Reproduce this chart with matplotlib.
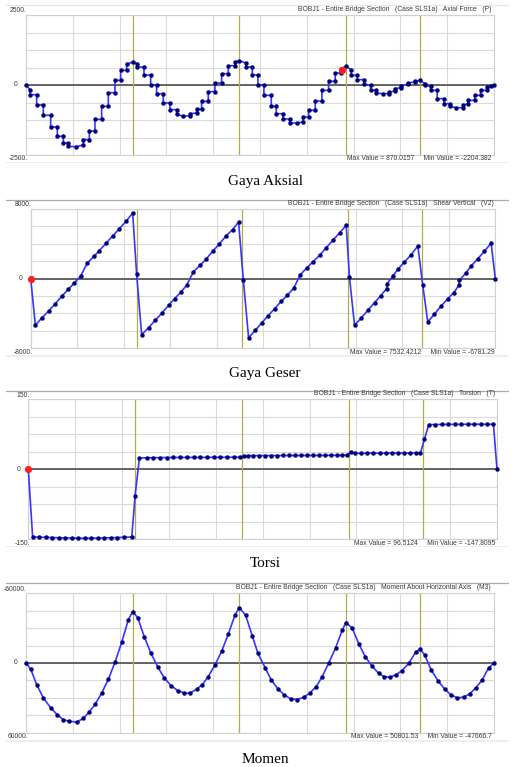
import matplotlib
matplotlib.use("Agg")
import matplotlib.pyplot as plt
from matplotlib.patches import Rectangle
import numpy as np

W, H = 518, 767
fig = plt.figure(figsize=(W / 100, H / 100), dpi=100)
fig.patch.set_facecolor("white")

# ---- bridge geometry (m) ----
BRIDGE_LENGTH = 158.0
SUPPORTS = [36.0, 72.0, 108.0, 133.0]

# ---- axial force P (kN), step diagram along the girder ----
axial_x = [0.0, 1.35, 1.35, 3.6, 3.6, 5.85, 5.85, 8.33, 8.33, 10.58, 10.58, 12.6, 12.6,
           14.29, 14.29, 16.88, 19.35, 19.35, 21.38, 21.38, 23.29, 23.29, 25.54, 25.54,
           27.79, 27.79, 30.04, 30.04, 31.95, 31.95, 33.98, 33.98, 36.0,
           37.58, 37.58, 39.83, 39.83, 42.08, 42.08, 44.1, 44.1, 46.35, 46.35, 48.6, 48.6,
           50.85, 50.85, 52.88, 55.35, 55.35, 57.6, 57.6, 59.29, 59.29, 61.54, 61.54,
           63.79, 63.79, 66.04, 66.04, 68.29, 68.29, 70.54, 70.54, 72.0,
           74.25, 74.25, 76.39, 76.39, 78.3, 78.3, 80.33, 80.33, 82.8, 82.8, 84.49, 84.49,
           86.74, 86.74, 88.99, 88.99, 91.58, 93.49, 93.49, 95.4, 95.4, 97.65, 97.65,
           99.9, 99.9, 102.15, 102.15, 104.4, 104.4, 106.2, 106.2, 108.0,
           109.8, 109.8, 111.83, 111.83, 114.08, 114.08, 116.33, 116.33, 118.24, 118.24,
           120.49, 122.51, 122.51, 124.43, 124.43, 126.68, 126.68, 128.93, 128.93,
           131.18, 131.18, 133.0,
           134.55, 134.55, 136.58, 136.58, 138.83, 138.83, 141.08, 141.08, 142.99, 142.99,
           145.24, 147.49, 147.49, 149.18, 149.18, 151.43, 151.43, 153.45, 153.45,
           155.7, 155.7, 157.05, 158.0]
axial_v = [0, -167, -345, -345, -714, -714, -1083, -1083, -1500, -1500, -1833, -1833, -2071,
           -2071, -2190, -2204, -2143, -1952, -1952, -1643, -1643, -1226, -1226, -762,
           -762, -274, -274, 167, 167, 524, 524, 738, 821,
           762, 643, 643, 357, 357, 0, 0, -310, -310, -643, -643, -881,
           -881, -1048, -1107, -1107, -1024, -1000, -857, -857, -583, -583, -238,
           -238, 71, 71, 405, 405, 690, 690, 821, 870,
           786, 643, 643, 357, 357, 0, 0, -369, -369, -762, -762, -1024,
           -1024, -1214, -1214, -1357, -1357, -1321, -1143, -1143, -905, -905, -571,
           -571, -190, -190, 131, 131, 429, 429, 583, 667,
           548, 345, 345, 190, 190, 24, -12, -190, -190, -286,
           -310, -310, -262, -214, -131, -95, -24, 24, 71,
           107, 131, 167,
           48, -12, -48, -190, -190, -488, -488, -667, -667, -762,
           -810, -810, -726, -667, -548, -548, -369, -369, -190,
           -190, -71, -48, 0]
axial_cursor = (106.7, 548)

# ---- vertical shear V2 (kN) ----
shear_x = [0.0, 1.59, 3.74, 6.12, 8.38, 10.65, 12.8, 14.73, 16.99, 19.26, 21.53, 23.34,
           25.61, 27.87, 30.14, 32.41, 34.68, 36.03,
           37.73, 40.1, 42.37, 44.64, 46.91, 48.95, 50.99, 53.03, 55.29, 57.56, 59.6,
           61.86, 64.13, 66.4, 68.66, 70.7, 72.3,
           74.1, 76.36, 78.63, 80.67, 82.94, 85.2, 87.24, 89.51, 91.55, 93.81, 95.97,
           98.23, 100.5, 102.76, 105.03, 107.3, 108.4,
           110.13, 112.39, 114.66, 116.93, 118.97, 121.0, 121.23, 123.16, 124.86,
           127.12, 129.39, 131.66, 133.3,
           135.05, 137.32, 139.59, 141.85, 143.89, 145.59, 145.82, 148.08, 149.78,
           152.05, 154.31, 156.58, 158.0]
shear_v = [0, -5359, -4517, -3713, -2871, -1991, -1225, -536, 306, 1799, 2565, 3216,
           4058, 4900, 5742, 6584, 7532, 498,
           -6431, -5627, -4785, -3943, -3062, -2297, -1569, -766, 766, 1531, 2220,
           3139, 3981, 4900, 5627, 6508, -115,
           -6781, -5933, -5053, -4287, -3445, -2603, -1914, -1072, 383, 1225, 1914,
           2680, 3560, 4402, 5244, 6125, 191,
           -5359, -4517, -3637, -2756, -1991, -1148, -574, 306, 1072,
           1914, 2756, 3751, -689,
           -4976, -4058, -3139, -2297, -1608, -766, -191, 689, 1455,
           2297, 3139, 4096, 0]
shear_cursor = (0.0, 0)

# ---- torsion T (kN m) ----
torsion_x = [0.0, 1.46, 3.71, 5.96, 8.1, 10.24, 12.49, 14.74, 16.88, 19.13, 21.26, 23.51,
             25.65, 27.9, 30.04, 32.29, 34.88, 36.0, 37.46, 39.94, 42.19, 44.44, 46.69,
             48.94, 51.19, 53.44, 55.69, 57.94, 60.19, 62.44, 64.69, 66.94, 69.19, 71.21,
             72.56, 73.9, 75.9, 77.9, 79.9, 81.9, 83.9, 85.9, 87.9, 89.9, 91.9, 93.9,
             95.9, 97.9, 99.9, 101.9, 103.9, 105.9, 107.3, 108.7, 110.1, 112.1, 114.2,
             116.3, 118.4, 120.5, 122.5, 124.6, 126.7, 128.8, 130.8, 132.2, 133.5, 135.0,
             137.2, 139.3, 141.5, 143.7, 145.9, 148.1, 150.3, 152.5, 154.7, 156.8, 158.0]
torsion_v = [0, -145.0, -145.4, -145.8, -146.2, -146.6, -147.0, -147.4, -147.8, -147.8,
             -147.6, -147.3, -147.0, -146.6, -146.2, -145.6, -145.0, -57.1, 24.3, 24.6,
             24.9, 25.1, 25.2, 25.3, 25.4, 25.5, 25.5, 25.6, 25.6, 25.7, 25.7, 25.8, 25.9,
             26.0, 27.9, 29.3, 29.3, 29.4, 29.4, 29.5, 29.5, 29.6, 29.6, 29.7, 29.7, 29.8,
             29.8, 29.9, 29.9, 30.0, 30.0, 30.1, 30.2, 37.0, 34.3, 34.4, 34.5, 34.6, 34.7,
             34.7, 34.8, 34.8, 34.9, 34.9, 35.0, 35.0, 64.0, 95.7, 96.0, 96.1, 96.2, 96.3,
             96.4, 96.5, 96.5, 96.5, 96.5, 96.4, 0]
torsion_cursor = (0.0, 0)

# ---- bending moment M3 (kN m), sagging drawn downward ----
moment_x = [0.0, 1.58, 3.6, 5.85, 8.33, 10.58, 12.6, 14.63, 17.1, 19.35, 21.38, 23.29,
            25.54, 27.79, 30.04, 32.29, 34.54, 36.0, 37.69, 39.94, 42.19, 44.44, 46.69,
            48.94, 51.19, 53.44, 55.35, 57.6, 59.51, 61.54, 63.79, 66.04, 68.29, 70.54,
            72.0, 74.14, 76.39, 78.3, 80.78, 82.8, 85.05, 87.08, 89.33, 91.58, 93.83,
            95.74, 97.99, 100.01, 102.15, 104.51, 106.76, 108.0, 110.14, 112.39, 114.53,
            116.78, 119.03, 120.83, 122.96, 124.99, 126.9, 129.26, 131.51, 133.0, 134.55,
            136.8, 139.05, 141.3, 143.33, 145.58, 147.71, 149.74, 151.76, 154.01, 156.15,
            158.0]
moment_v = [0, 5143, 18571, 30000, 38571, 44571, 48857, 50200, 50802, 47714, 42000, 35714,
            26000, 14000, -571, -17714, -37143, -44286, -39143, -22571, -8286, 3143, 12857,
            19429, 23714, 26000, 26000, 22571, 18571, 11714, 1714, -10000, -24857, -41143,
            -47667, -41143, -23429, -8286, 4286, 14571, 22286, 27143, 30857, 31429, 29429,
            26000, 20286, 11714, 286, -12857, -28286, -34857, -30000, -16286, -5429,
            2571, 8857, 11714, 12286, 10000, 6571, 286, -9143, -12000, -7143,
            6000, 15143, 22286, 27143, 30000, 29429, 26571, 21714, 14571, 4286,
            0]

HEADER = "BOBJ1 - Entire Bridge Section   (Case SLS1a)   "

panels = [
    dict(x=axial_x, v=axial_v, cursor=axial_cursor,
         ylim=(-2500, 2500), labels=("2500.", "0", "-2500."),
         title=HEADER + "Axial Force   (P)",
         stats="Max Value = 870.0157     Min Value = -2204.382",
         caption="Gaya Aksial",
         frame=(5, 163), plot=(26, 15, 494, 155), cap_y=182, title_r=491, stats_r=491),
    dict(x=shear_x, v=shear_v, cursor=shear_cursor,
         ylim=(-8000, 8000), labels=("8000.", "0", "-8000."),
         title=HEADER + "Shear Vertical   (V2)",
         stats="Max Value = 7532.4212     Min Value = -6781.29",
         caption="Gaya Geser",
         frame=(199.5, 357), plot=(30.7, 209, 495.3, 348.3), cap_y=373.5, title_r=494,
         stats_r=495),
    dict(x=torsion_x, v=torsion_v, cursor=torsion_cursor,
         ylim=(-150, 150), labels=("150.", "0", "-150."),
         title=HEADER + "Torsion   (T)",
         stats="Max Value = 96.5124     Min Value = -147.8095",
         caption="Torsi",
         frame=(391, 547), plot=(28.3, 399.3, 497, 539.3), cap_y=563.5, title_r=495,
         stats_r=495),
    dict(x=moment_x, v=moment_v, cursor=None,
         ylim=(60000, -60000), labels=("-60000.", "0", "60000."),
         title=HEADER + "Moment About Horizontal Axis   (M3)",
         stats="Max Value = 50801.53     Min Value = -47666.7",
         caption="Momen",
         frame=(582.7, 742), plot=(26, 593.3, 494, 732.7), cap_y=759.5, title_r=491,
         stats_r=492),
]

SMALL = dict(family=["Liberation Sans", "DejaVu Sans"], fontsize=4.9, color="#3a3a3a")
LINE_BLUE = "#3535ff"
NODE_BLUE = "#00007a"
SUPPORT_OLIVE = "#b4ab48"


def fx(px):
    return px / W


def fy(py):
    return 1 - py / H


for i, p in enumerate(panels):
    ftop, fbot = p["frame"]
    left, top, right, bottom = p["plot"]

    # window strip below the graph and the border above it
    fig.patches.append(Rectangle((fx(6), fy(fbot)), fx(502), (fbot - (bottom + 7)) / H,
                                 transform=fig.transFigure, facecolor="#eeeeee",
                                 edgecolor="none", zorder=0))
    fig.add_artist(plt.Line2D([fx(6), fx(508)], [fy(ftop), fy(ftop)],
                              transform=fig.transFigure,
                              color="#e6e6e6" if i == 0 else "#a9a9a9", lw=0.9))

    ax = fig.add_axes([fx(left), fy(bottom), (right - left) / W, (bottom - top) / H])
    ax.set_facecolor("white")
    ax.set_xlim(0, BRIDGE_LENGTH)
    ax.set_ylim(*p["ylim"])
    ax.set_xticks(np.linspace(0, BRIDGE_LENGTH, 11))
    ax.set_yticks(np.linspace(p["ylim"][0], p["ylim"][1], 9))
    ax.tick_params(length=0, labelleft=False, labelbottom=False)
    ax.grid(True, color="#dadada", lw=0.8)
    for s in ax.spines.values():
        s.set_color("#d0d0d0")
        s.set_linewidth(0.8)

    ax.axhline(0, color="#4d4d4d", lw=1.2, zorder=2)
    for s in SUPPORTS:
        ax.axvline(s, color=SUPPORT_OLIVE, lw=0.9, zorder=2)

    ax.plot(p["x"], p["v"], color=LINE_BLUE, lw=1.2, marker="o", ms=2.2,
            mfc=NODE_BLUE, mec=NODE_BLUE, zorder=3, clip_on=False)
    if p["cursor"] is not None:
        ax.plot([p["cursor"][0]], [p["cursor"][1]], "o", color="#ff1f1f", ms=4.2,
                zorder=4, clip_on=False)

    # value labels at the top, zero line and bottom of the scale
    top_lab, zero_lab, bot_lab = p["labels"]
    zero_y = (top + bottom) / 2
    fig.text(fx(left + 1), fy(top - 4), top_lab, ha="right", va="center", **SMALL)
    fig.text(fx(left - 8), fy(zero_y), zero_lab, ha="right", va="center", **SMALL)
    fig.text(fx(left + 2), fy(bottom + 4), bot_lab, ha="right", va="center", **SMALL)

    fig.text(fx(p["title_r"]), fy(top - 5.5), p["title"], ha="right", va="center", **SMALL)
    fig.text(fx(p["stats_r"]), fy(bottom + 3.8), p["stats"], ha="right", va="center",
             **SMALL)

    fig.text(fx(265), fy(p["cap_y"]), p["caption"], ha="center", va="center",
             family=["Liberation Serif", "DejaVu Serif"], fontsize=11, color="black")

fig.savefig("out.png", dpi=100, facecolor="white")
